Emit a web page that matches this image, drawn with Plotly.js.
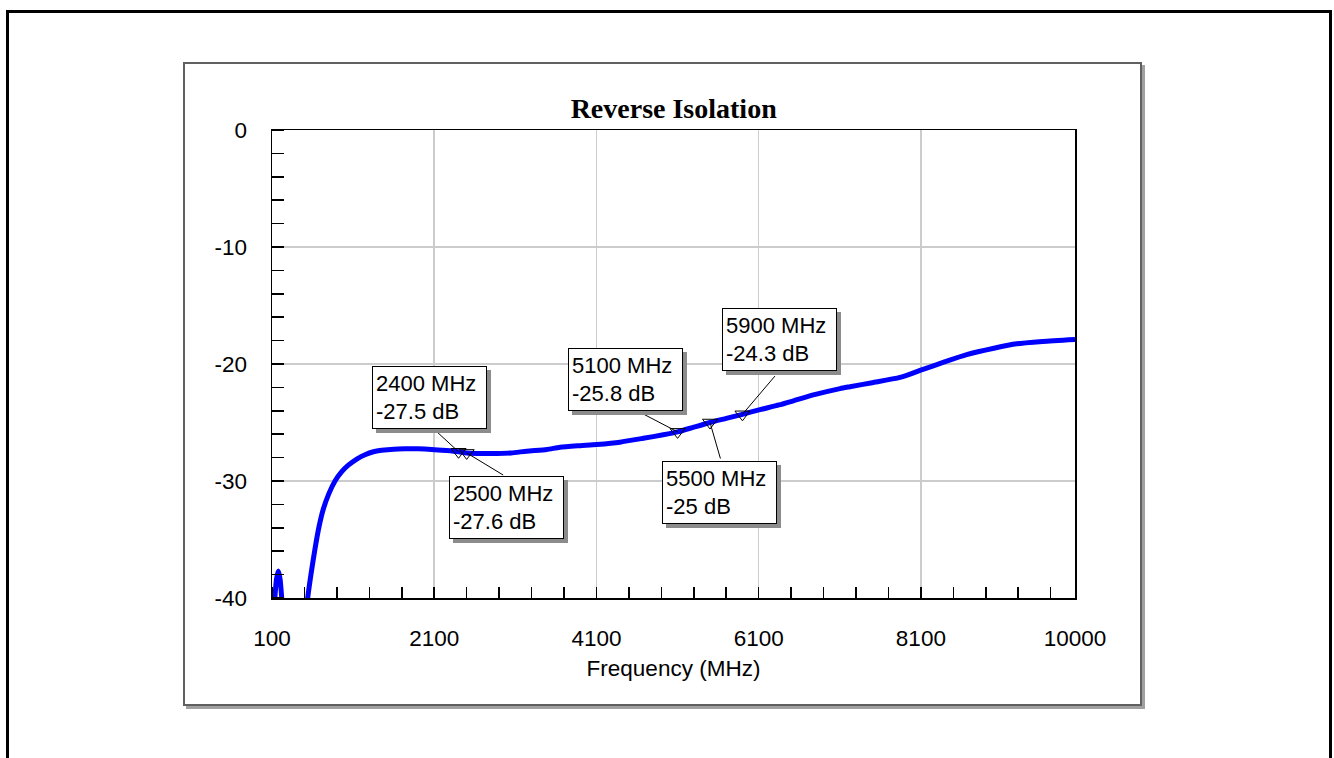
<!DOCTYPE html>
<html>
<head>
<meta charset="utf-8">
<script src="https://cdn.plot.ly/plotly-3.0.1.min.js"></script>
<style>
  html, body { margin: 0; padding: 0; background: #ffffff; }
  body { width: 1334px; height: 758px; overflow: hidden; position: relative; }
  #outer { position: absolute; left: 6px; top: 10px; width: 1320px; height: 800px; border: 3px solid #000; box-sizing: content-box; }
  #inner { position: absolute; left: 183px; top: 62px; width: 955px; height: 640px; border: 2px solid #606060; background: #fff; box-shadow: 3px 3px 0 #a0a0a0; }
  #chart { position: absolute; left: 0; top: 0; width: 1334px; height: 758px; }
</style>
</head>
<body>
<div id="outer"></div>
<div id="inner"></div>
<div id="chart"></div>
<script>
// Reverse isolation trace (MHz, dB)
const freqMHz = [100,130,155,178,200,225,260,480,540,580,630,680,733,800,877,960,1041,1150,1247,1350,1452,1600,1740,1900,2069,2250,2400,2500,2700,2870,3050,3240,3487,3651,3900,4103,4390,4678,4924,5100,5300,5500,5700,5900,6117,6350,6527,6800,7103,7226,7500,7842,8089,8400,8665,9000,9281,9600,10000];
const isolationDB = [-44,-40.5,-38.4,-37.7,-38.4,-40.5,-44,-44,-40,-38.0,-35.8,-33.9,-32.4,-31.1,-30.0,-29.2,-28.65,-28.1,-27.75,-27.5,-27.38,-27.28,-27.25,-27.25,-27.3,-27.4,-27.5,-27.6,-27.65,-27.65,-27.6,-27.45,-27.3,-27.12,-26.98,-26.88,-26.68,-26.35,-26.05,-25.8,-25.4,-25.0,-24.65,-24.3,-23.9,-23.5,-23.15,-22.6,-22.1,-21.94,-21.6,-21.15,-20.55,-19.8,-19.2,-18.65,-18.27,-18.07,-17.9];

// Markers
const markerFreq = [2400, 2500, 5100, 5500, 5900];
const markerDB = [-27.5, -27.6, -25.8, -25, -24.3];

// Axis tick values and labels
const xTickVals = [100, 2100, 4100, 6100, 8100, 10000];
const xTickText = ['100', '2100', '4100', '6100', '8100', '10000'];
const yTickVals = [0, -10, -20, -30, -40];
const yTickText = ['0', '-10', '-20', '-30', '-40'];

// Label box placement (pixel offsets from the marker) and leader-line start
const labelBoxShift = [[-87, 86], [-18, -23], [-110, 84], [-48, -38], [-20, 106]];
const leaderStart = [[-25, -23], [38, 23], [-46, -24], [11, 38], [34, -40]];

const font = 'Liberation Sans, Arial, sans-serif';
const boxW = 107, boxH = 55;

const traces = [
  {
    x: freqMHz, y: isolationDB, type: 'scatter', mode: 'lines',
    line: { color: '#0000ff', width: 5, shape: 'spline', smoothing: 0.6 },
    hoverinfo: 'skip', showlegend: false
  },
  {
    x: markerFreq, y: markerDB, type: 'scatter', mode: 'markers',
    marker: { symbol: 'triangle-down-open', size: 13, color: '#000', line: { width: 1, color: '#000' } },
    hoverinfo: 'skip', showlegend: false
  }
];

const annotations = [];
markerFreq.forEach((f, i) => {
  const txt = f + ' MHz<br>' + markerDB[i] + ' dB';
  const [dx, dy] = labelBoxShift[i];
  const [ax, ay] = leaderStart[i];
  // leader line
  annotations.push({
    x: f, y: markerDB[i], xref: 'x', yref: 'y', text: ' ', font: { size: 1 },
    showarrow: true, arrowhead: 0, arrowwidth: 1, arrowcolor: '#000', ax: ax, ay: ay, standoff: 0
  });
  // shadow
  annotations.push({
    x: f, y: markerDB[i], xref: 'x', yref: 'y', text: ' ', showarrow: false,
    xanchor: 'left', yanchor: 'top', xshift: dx + 4, yshift: dy - 4,
    width: boxW, height: boxH, borderpad: 3, borderwidth: 1,
    bgcolor: '#8c8c8c', bordercolor: '#8c8c8c', font: { family: font, size: 4 }
  });
  // box
  annotations.push({
    x: f, y: markerDB[i], xref: 'x', yref: 'y', text: txt, showarrow: false,
    xanchor: 'left', yanchor: 'top', xshift: dx, yshift: dy,
    width: boxW, height: boxH, align: 'left', valign: 'middle', borderpad: 3, borderwidth: 1,
    bgcolor: '#ffffff', bordercolor: '#000000',
    font: { family: font, size: 22, color: '#000' }
  });
});

const layout = {
  width: 1334, height: 758,
  margin: { l: 272, r: 259, t: 130, b: 160, pad: 0 },
  paper_bgcolor: 'rgba(0,0,0,0)', plot_bgcolor: '#ffffff',
  title: {
    text: '<b>Reverse Isolation</b>',
    font: { family: 'Liberation Serif, Times New Roman, serif', size: 28, color: '#000' },
    x: 0.505, xanchor: 'center', xref: 'container', y: 1 - 108 / 758, yanchor: 'middle', yref: 'container'
  },
  xaxis: {
    range: [100, 10000], tickmode: 'array', tickvals: xTickVals, ticktext: xTickText,
    ticks: '', showgrid: true, gridcolor: '#cccccc', gridwidth: 1.5,
    showline: true, linecolor: '#000', linewidth: 1.5, mirror: true, zeroline: false,
    tickfont: { family: font, size: 22.5, color: '#000' }, ticklabelstandoff: 19,
    minor: { ticks: 'inside', ticklen: 11, tickwidth: 1.5, tickcolor: '#000', tick0: 100, dtick: 400, showgrid: false },
    title: { text: 'Frequency (MHz)', font: { family: font, size: 22.5, color: '#000' }, standoff: 10 },
    automargin: false, fixedrange: true
  },
  yaxis: {
    range: [-40, 0], tickmode: 'array', tickvals: yTickVals, ticktext: yTickText,
    ticks: '', showgrid: true, gridcolor: '#cccccc', gridwidth: 1.5,
    showline: true, linecolor: '#000', linewidth: 1.5, mirror: true, zeroline: false,
    tickfont: { family: font, size: 22.5, color: '#000' }, ticklabelstandoff: 19,
    minor: { ticks: 'inside', ticklen: 12, tickwidth: 1.5, tickcolor: '#000', tick0: 0, dtick: 2, showgrid: false },
    automargin: false, fixedrange: true
  },
  annotations: annotations,
  showlegend: false
};

Plotly.newPlot('chart', traces, layout, { displayModeBar: false, staticPlot: true });
</script>
</body>
</html>
